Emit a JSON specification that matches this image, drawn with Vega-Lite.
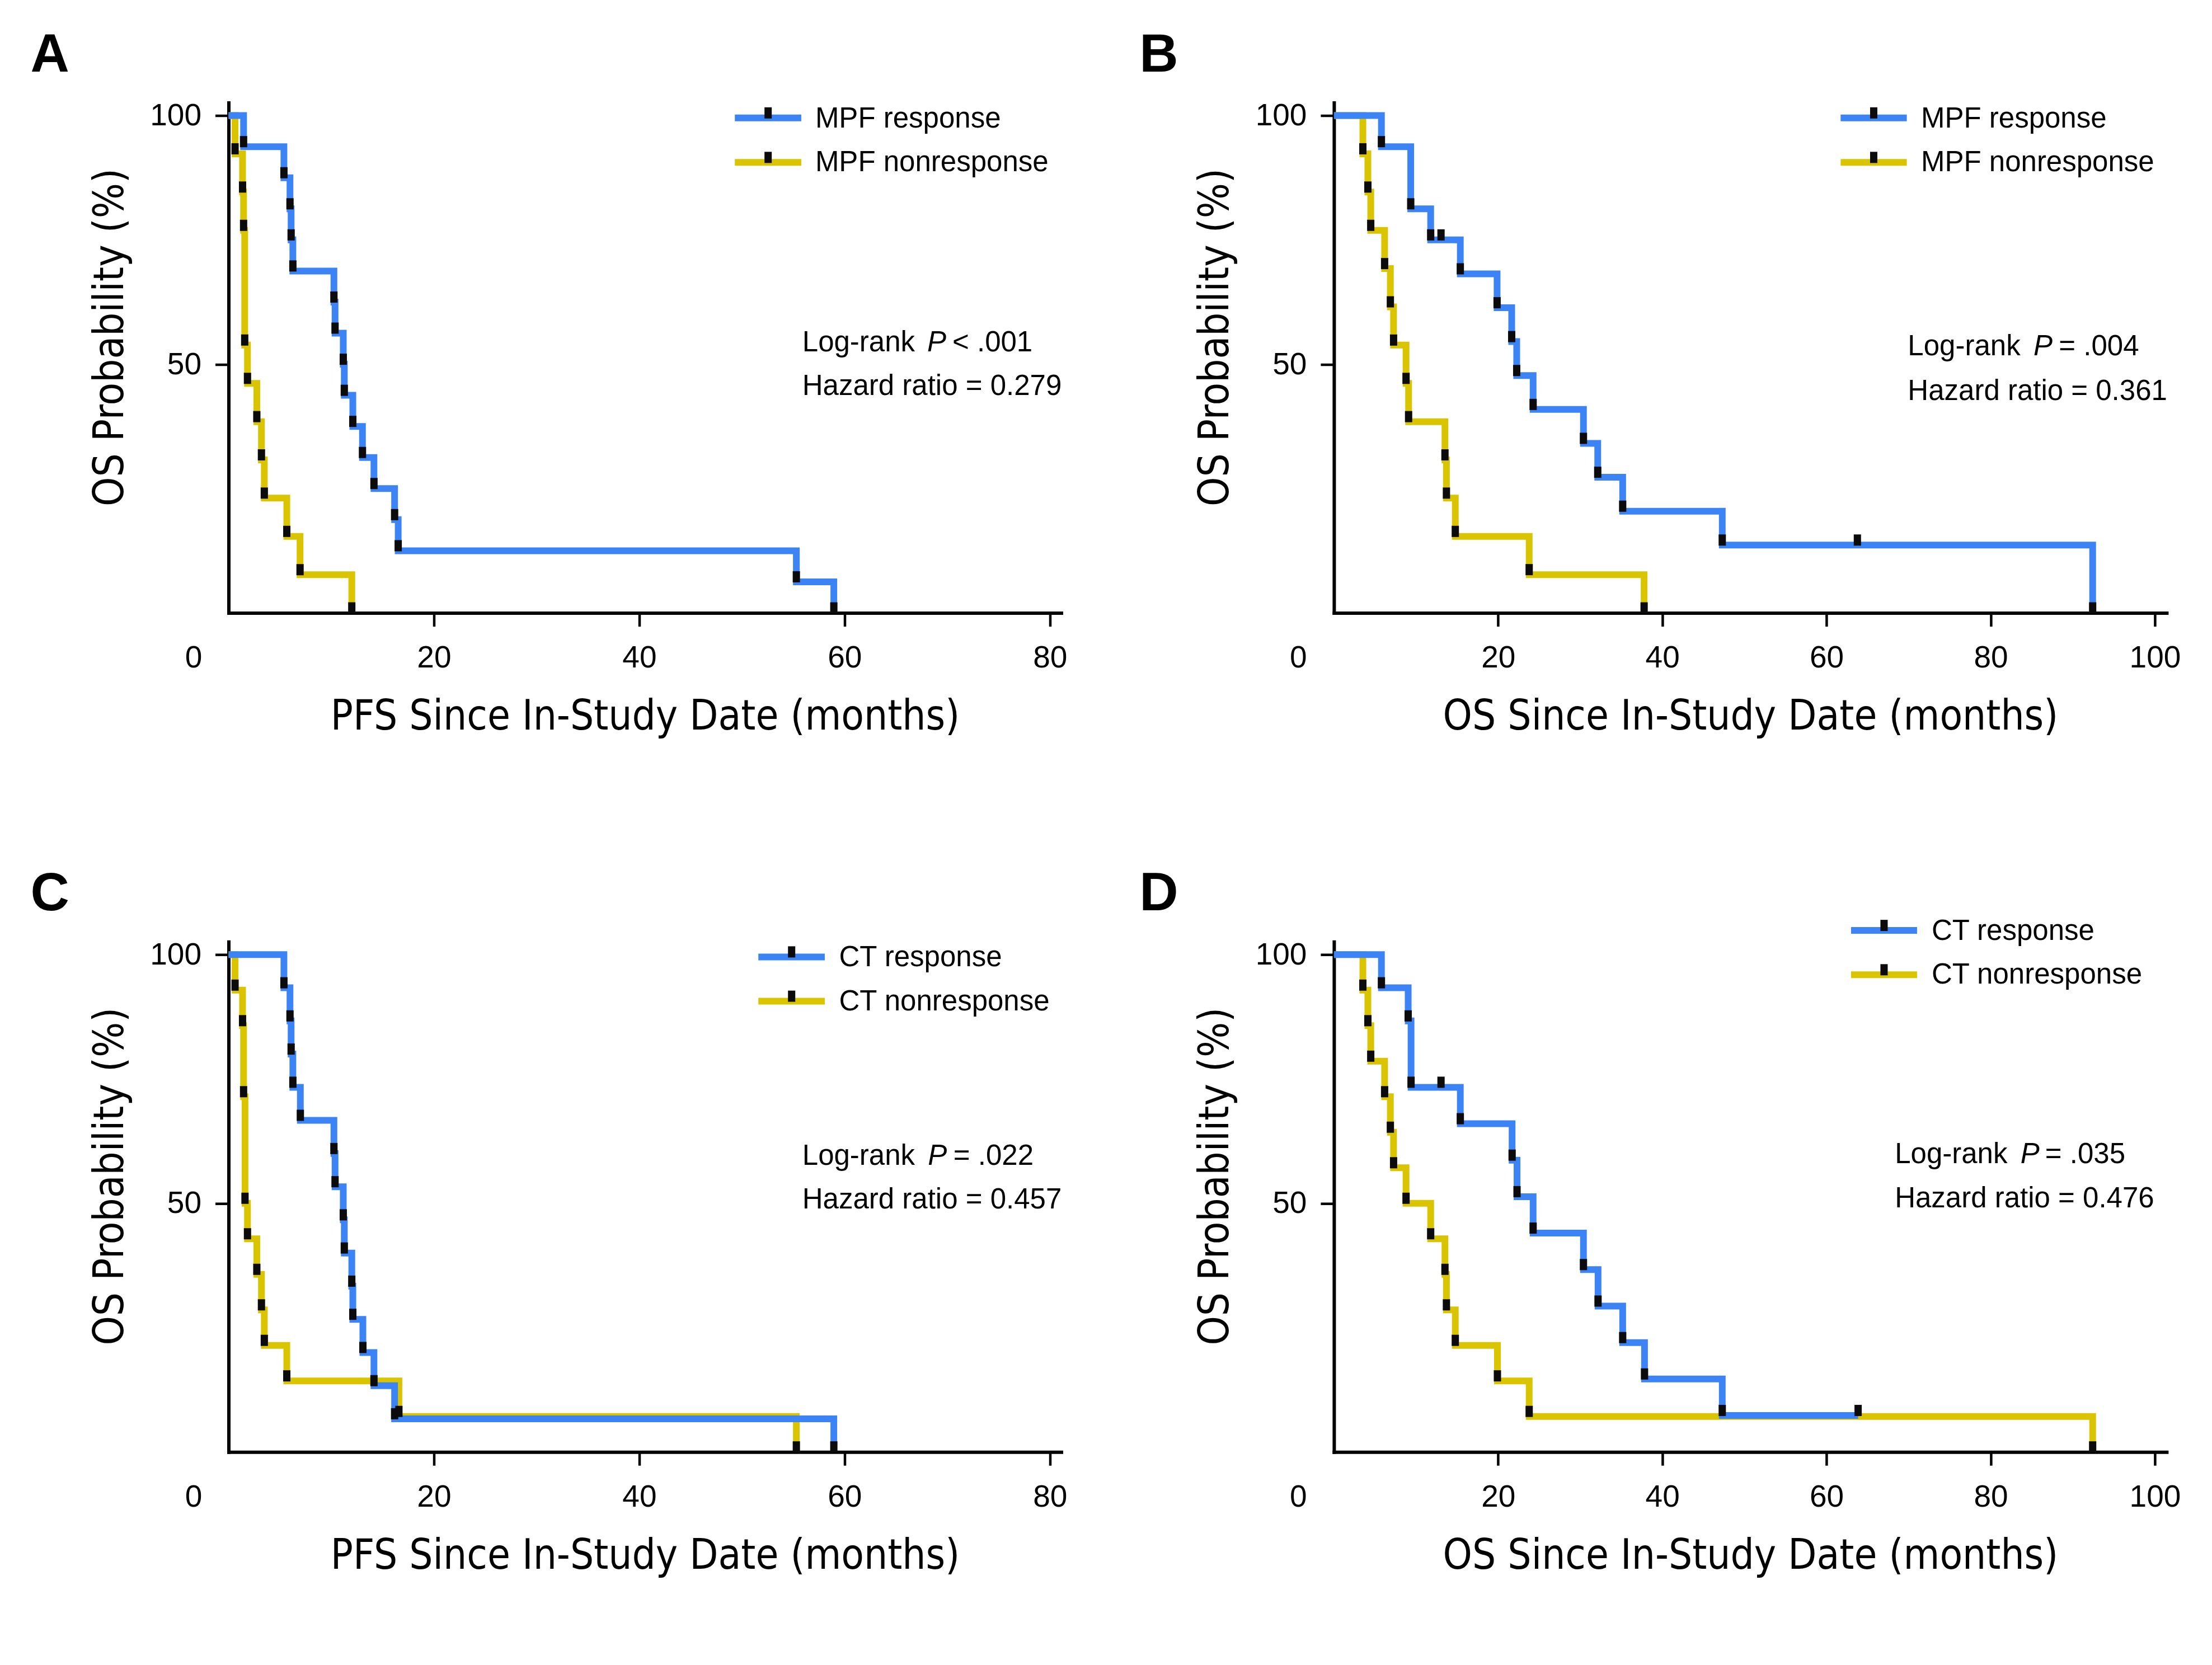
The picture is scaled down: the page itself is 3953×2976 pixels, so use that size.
{
"$schema": "https://vega.github.io/schema/vega-lite/v6.json",
"background": "white",
"padding": {"left": 54.5, "top": 49.5, "right": 20, "bottom": 20},
"autosize": {"type": "pad"},
"config": {
  "view": {"stroke": null},
  "font": "Liberation Sans",
  "axis": {
    "domainColor": "#000000", "domainWidth": 6, "domainCap": "square",
    "tickColor": "#000000", "tickWidth": 4.5, "tickSize": 24,
    "labelFont": "Liberation Sans", "labelFontSize": 55, "labelColor": "#000000",
    "titleFont": "Liberation Sans Narrow, DejaVu Sans Condensed, Liberation Sans",
    "titleFontWeight": "normal", "titleColor": "#000000",
    "grid": false, "labelFlush": false, "labelOverlap": false
  },
  "axisX": {"titleFontSize": 74},
  "axisY": {"titleFontSize": 74},
  "text": {"font": "Liberation Sans", "fontSize": 51, "color": "#000000"}
},
"data": {"values": [
{"p":"A","g":"response","t":0,"s":100,"k":"start"},
{"p":"A","g":"response","t":1.46,"s":93.75,"k":"event"},
{"p":"A","g":"response","t":5.39,"s":87.5,"k":"event"},
{"p":"A","g":"response","t":5.98,"s":81.25,"k":"event"},
{"p":"A","g":"response","t":6.09,"s":75,"k":"event"},
{"p":"A","g":"response","t":6.26,"s":68.75,"k":"event"},
{"p":"A","g":"response","t":10.26,"s":62.5,"k":"event"},
{"p":"A","g":"response","t":10.37,"s":56.25,"k":"event"},
{"p":"A","g":"response","t":11.17,"s":50,"k":"event"},
{"p":"A","g":"response","t":11.27,"s":43.75,"k":"event"},
{"p":"A","g":"response","t":12.1,"s":37.5,"k":"event"},
{"p":"A","g":"response","t":13.04,"s":31.25,"k":"event"},
{"p":"A","g":"response","t":14.16,"s":25,"k":"event"},
{"p":"A","g":"response","t":16.17,"s":18.75,"k":"event"},
{"p":"A","g":"response","t":16.52,"s":12.5,"k":"event"},
{"p":"A","g":"response","t":55.3,"s":6.25,"k":"event"},
{"p":"A","g":"response","t":58.95,"s":0,"k":"event"},
{"p":"A","g":"nonresponse","t":0,"s":100,"k":"start"},
{"p":"A","g":"nonresponse","t":0.63,"s":92.31,"k":"event"},
{"p":"A","g":"nonresponse","t":1.36,"s":84.62,"k":"event"},
{"p":"A","g":"nonresponse","t":1.46,"s":76.92,"k":"event"},
{"p":"A","g":"nonresponse","t":1.57,"s":53.85,"k":"event"},
{"p":"A","g":"nonresponse","t":1.84,"s":46.15,"k":"event"},
{"p":"A","g":"nonresponse","t":2.75,"s":38.46,"k":"event"},
{"p":"A","g":"nonresponse","t":3.2,"s":30.77,"k":"event"},
{"p":"A","g":"nonresponse","t":3.48,"s":23.08,"k":"event"},
{"p":"A","g":"nonresponse","t":5.67,"s":15.38,"k":"event"},
{"p":"A","g":"nonresponse","t":6.96,"s":7.69,"k":"event"},
{"p":"A","g":"nonresponse","t":12.0,"s":0,"k":"event"},
{"p":"B","g":"response","t":0,"s":100,"k":"start"},
{"p":"B","g":"response","t":5.78,"s":93.75,"k":"event"},
{"p":"B","g":"response","t":9.35,"s":81.25,"k":"event"},
{"p":"B","g":"response","t":11.78,"s":75,"k":"event"},
{"p":"B","g":"response","t":13.04,"s":75,"k":"censor"},
{"p":"B","g":"response","t":15.39,"s":68.18,"k":"event"},
{"p":"B","g":"response","t":19.87,"s":61.36,"k":"event"},
{"p":"B","g":"response","t":21.65,"s":54.55,"k":"event"},
{"p":"B","g":"response","t":22.26,"s":47.73,"k":"event"},
{"p":"B","g":"response","t":24.26,"s":40.91,"k":"event"},
{"p":"B","g":"response","t":30.39,"s":34.09,"k":"event"},
{"p":"B","g":"response","t":32.13,"s":27.27,"k":"event"},
{"p":"B","g":"response","t":35.17,"s":20.45,"k":"event"},
{"p":"B","g":"response","t":47.3,"s":13.64,"k":"event"},
{"p":"B","g":"response","t":63.76,"s":13.64,"k":"censor"},
{"p":"B","g":"response","t":92.42,"s":0,"k":"event"},
{"p":"B","g":"nonresponse","t":0,"s":100,"k":"start"},
{"p":"B","g":"nonresponse","t":3.52,"s":92.31,"k":"event"},
{"p":"B","g":"nonresponse","t":4.13,"s":84.62,"k":"event"},
{"p":"B","g":"nonresponse","t":4.48,"s":76.92,"k":"event"},
{"p":"B","g":"nonresponse","t":6.17,"s":69.23,"k":"event"},
{"p":"B","g":"nonresponse","t":6.87,"s":61.54,"k":"event"},
{"p":"B","g":"nonresponse","t":7.26,"s":53.85,"k":"event"},
{"p":"B","g":"nonresponse","t":8.78,"s":46.15,"k":"event"},
{"p":"B","g":"nonresponse","t":9.09,"s":38.46,"k":"event"},
{"p":"B","g":"nonresponse","t":13.52,"s":30.77,"k":"event"},
{"p":"B","g":"nonresponse","t":13.7,"s":23.08,"k":"event"},
{"p":"B","g":"nonresponse","t":14.78,"s":15.38,"k":"event"},
{"p":"B","g":"nonresponse","t":23.78,"s":7.69,"k":"event"},
{"p":"B","g":"nonresponse","t":37.78,"s":0,"k":"event"},
{"p":"C","g":"response","t":0,"s":100,"k":"start"},
{"p":"C","g":"response","t":5.39,"s":93.33,"k":"event"},
{"p":"C","g":"response","t":5.98,"s":86.67,"k":"event"},
{"p":"C","g":"response","t":6.09,"s":80,"k":"event"},
{"p":"C","g":"response","t":6.26,"s":73.33,"k":"event"},
{"p":"C","g":"response","t":6.99,"s":66.67,"k":"event"},
{"p":"C","g":"response","t":10.26,"s":60,"k":"event"},
{"p":"C","g":"response","t":10.37,"s":53.33,"k":"event"},
{"p":"C","g":"response","t":11.17,"s":46.67,"k":"event"},
{"p":"C","g":"response","t":11.27,"s":40,"k":"event"},
{"p":"C","g":"response","t":12.0,"s":33.33,"k":"event"},
{"p":"C","g":"response","t":12.1,"s":26.67,"k":"event"},
{"p":"C","g":"response","t":13.08,"s":20,"k":"event"},
{"p":"C","g":"response","t":14.16,"s":13.33,"k":"event"},
{"p":"C","g":"response","t":16.17,"s":6.67,"k":"event"},
{"p":"C","g":"response","t":58.95,"s":0,"k":"event"},
{"p":"C","g":"nonresponse","t":0,"s":100,"k":"start"},
{"p":"C","g":"nonresponse","t":0.63,"s":92.86,"k":"event"},
{"p":"C","g":"nonresponse","t":1.36,"s":85.71,"k":"event"},
{"p":"C","g":"nonresponse","t":1.46,"s":71.43,"k":"event"},
{"p":"C","g":"nonresponse","t":1.6,"s":50,"k":"event"},
{"p":"C","g":"nonresponse","t":1.84,"s":42.86,"k":"event"},
{"p":"C","g":"nonresponse","t":2.75,"s":35.71,"k":"event"},
{"p":"C","g":"nonresponse","t":3.2,"s":28.57,"k":"event"},
{"p":"C","g":"nonresponse","t":3.48,"s":21.43,"k":"event"},
{"p":"C","g":"nonresponse","t":5.67,"s":14.29,"k":"event"},
{"p":"C","g":"nonresponse","t":16.59,"s":7.14,"k":"event"},
{"p":"C","g":"nonresponse","t":55.3,"s":0,"k":"event"},
{"p":"D","g":"response","t":0,"s":100,"k":"start"},
{"p":"D","g":"response","t":5.78,"s":93.33,"k":"event"},
{"p":"D","g":"response","t":9.04,"s":86.67,"k":"event"},
{"p":"D","g":"response","t":9.39,"s":73.33,"k":"event"},
{"p":"D","g":"response","t":13.04,"s":73.33,"k":"censor"},
{"p":"D","g":"response","t":15.39,"s":66,"k":"event"},
{"p":"D","g":"response","t":21.7,"s":58.67,"k":"event"},
{"p":"D","g":"response","t":22.3,"s":51.33,"k":"event"},
{"p":"D","g":"response","t":24.26,"s":44,"k":"event"},
{"p":"D","g":"response","t":30.39,"s":36.67,"k":"event"},
{"p":"D","g":"response","t":32.17,"s":29.33,"k":"event"},
{"p":"D","g":"response","t":35.17,"s":22,"k":"event"},
{"p":"D","g":"response","t":37.83,"s":14.67,"k":"event"},
{"p":"D","g":"response","t":47.3,"s":7.33,"k":"event"},
{"p":"D","g":"response","t":63.85,"s":7.33,"k":"censor"},
{"p":"D","g":"nonresponse","t":0,"s":100,"k":"start"},
{"p":"D","g":"nonresponse","t":3.52,"s":92.86,"k":"event"},
{"p":"D","g":"nonresponse","t":4.13,"s":85.71,"k":"event"},
{"p":"D","g":"nonresponse","t":4.48,"s":78.57,"k":"event"},
{"p":"D","g":"nonresponse","t":6.17,"s":71.43,"k":"event"},
{"p":"D","g":"nonresponse","t":6.87,"s":64.29,"k":"event"},
{"p":"D","g":"nonresponse","t":7.26,"s":57.14,"k":"event"},
{"p":"D","g":"nonresponse","t":8.78,"s":50,"k":"event"},
{"p":"D","g":"nonresponse","t":11.78,"s":42.86,"k":"event"},
{"p":"D","g":"nonresponse","t":13.52,"s":35.71,"k":"event"},
{"p":"D","g":"nonresponse","t":13.7,"s":28.57,"k":"event"},
{"p":"D","g":"nonresponse","t":14.78,"s":21.43,"k":"event"},
{"p":"D","g":"nonresponse","t":19.91,"s":14.29,"k":"event"},
{"p":"D","g":"nonresponse","t":23.78,"s":7.14,"k":"event"},
{"p":"D","g":"nonresponse","t":92.42,"s":0,"k":"event"}
]},
"columns": 2,
"spacing": {"row": 587.7, "column": 487.4},
"bounds": "flush",
"concat": [
{
 "width": 1488, "height": 912,
 "layer": [
  {"transform": [{"filter": "datum.p == 'A' && datum.g == 'nonresponse'"}], "mark": {"type": "line", "interpolate": "step-after", "strokeWidth": 12, "strokeJoin": "miter"},
   "encoding": {
    "x": {"field": "t", "type": "quantitative", "scale": {"domain": [0, 81.1], "nice": false, "zero": false},
          "axis": {"values": [0, 20, 40, 60, 80], "title": "PFS Since In-Study Date (months)", "labelBaseline": "alphabetic", "labelPadding": 73,
                   "labelOffset": {"condition": {"test": "datum.value == 0", "value": -63}, "value": 0},
                   "tickOpacity": {"condition": {"test": "datum.value == 0", "value": 0}, "value": 1},
                   "titleBaseline": "alphabetic", "titleX": 744, "titleY": 208, "titleAlign": "center"}},
    "y": {"field": "s", "type": "quantitative", "scale": {"domain": [0, 102.6], "nice": false, "zero": false},
          "axis": {"values": [50, 100], "title": "OS Probability (%)", "labelPadding": 25, "titleX": -189, "titleY": 419, "titleAngle": 270, "titleBaseline": "alphabetic", "titleAlign": "center"}},
    "color": {"field": "g", "type": "nominal", "scale": {"domain": ["response", "nonresponse"], "range": ["#3C83F6", "#DAC400"]}, "legend": null}}},
  {"transform": [{"filter": "datum.p == 'A' && datum.g == 'response'"}], "mark": {"type": "line", "interpolate": "step-after", "strokeWidth": 12, "strokeJoin": "miter"},
   "encoding": {"x": {"field": "t", "type": "quantitative"}, "y": {"field": "s", "type": "quantitative"}, "color": {"field": "g", "type": "nominal", "legend": null}}},
  {"transform": [{"filter": "datum.p == 'A' && datum.k != 'start'"}], "mark": {"type": "tick", "orient": "vertical", "size": 20, "thickness": 13, "color": "#0b0b0b", "opacity": 1, "yOffset": -9},
   "encoding": {"x": {"field": "t", "type": "quantitative"}, "y": {"field": "s", "type": "quantitative"}}},
  {"transform": [{"filter": "datum.p == 'A' && datum.g == 'response' && datum.k == 'start'"}],
   "layer": [
    {"mark": {"type": "rule", "strokeWidth": 12}, "encoding": {"x": {"datum": 49.31, "type": "quantitative"}, "x2": {"datum": 55.78}, "y": {"datum": 99.53, "type": "quantitative"}, "color": {"datum": "response", "type": "nominal", "legend": null}}},
    {"mark": {"type": "rule", "strokeWidth": 12}, "encoding": {"x": {"datum": 49.31, "type": "quantitative"}, "x2": {"datum": 55.78}, "y": {"datum": 90.58, "type": "quantitative"}, "color": {"datum": "nonresponse", "type": "nominal", "legend": null}}},
    {"mark": {"type": "tick", "orient": "vertical", "size": 20, "thickness": 13, "color": "#0b0b0b", "opacity": 1, "yOffset": -9}, "encoding": {"x": {"datum": 52.55, "type": "quantitative"}, "y": {"datum": 99.53, "type": "quantitative"}}},
    {"mark": {"type": "tick", "orient": "vertical", "size": 20, "thickness": 13, "color": "#0b0b0b", "opacity": 1, "yOffset": -9}, "encoding": {"x": {"datum": 52.55, "type": "quantitative"}, "y": {"datum": 90.58, "type": "quantitative"}}},
    {"mark": {"type": "text", "align": "left", "baseline": "alphabetic"}, "encoding": {"x": {"datum": 57.14, "type": "quantitative"}, "y": {"datum": 97.65, "type": "quantitative"}, "text": {"value": "MPF response"}}},
    {"mark": {"type": "text", "align": "left", "baseline": "alphabetic"}, "encoding": {"x": {"datum": 57.14, "type": "quantitative"}, "y": {"datum": 88.8, "type": "quantitative"}, "text": {"value": "MPF nonresponse"}}},
    {"mark": {"type": "text", "align": "left", "baseline": "alphabetic"}, "encoding": {"x": {"datum": 55.88, "type": "quantitative"}, "y": {"datum": 52.65, "type": "quantitative"}, "text": {"value": "Log-rank"}}},
    {"mark": {"type": "text", "align": "left", "baseline": "alphabetic", "fontStyle": "italic"}, "encoding": {"x": {"datum": 68.04, "type": "quantitative"}, "y": {"datum": 52.65, "type": "quantitative"}, "text": {"value": "P"}}},
    {"mark": {"type": "text", "align": "left", "baseline": "alphabetic"}, "encoding": {"x": {"datum": 70.5, "type": "quantitative"}, "y": {"datum": 52.65, "type": "quantitative"}, "text": {"value": "< .001"}}},
    {"mark": {"type": "text", "align": "left", "baseline": "alphabetic"}, "encoding": {"x": {"datum": 55.88, "type": "quantitative"}, "y": {"datum": 43.8, "type": "quantitative"}, "text": {"value": "Hazard ratio = 0.279"}}},
    {"mark": {"type": "text", "align": "left", "baseline": "alphabetic", "fontSize": 96, "fontWeight": "bold"}, "encoding": {"x": {"datum": -19.29, "type": "quantitative"}, "y": {"datum": 108.9, "type": "quantitative"}, "text": {"value": "A"}}}
   ]}
 ]
},
{
 "width": 1488, "height": 912,
 "layer": [
  {"transform": [{"filter": "datum.p == 'B' && datum.g == 'nonresponse'"}], "mark": {"type": "line", "interpolate": "step-after", "strokeWidth": 12, "strokeJoin": "miter"},
   "encoding": {
    "x": {"field": "t", "type": "quantitative", "scale": {"domain": [0, 101.43], "nice": false, "zero": false},
          "axis": {"values": [0, 20, 40, 60, 80, 100], "title": "OS Since In-Study Date (months)", "labelBaseline": "alphabetic", "labelPadding": 73,
                   "labelOffset": {"condition": {"test": "datum.value == 0", "value": -64}, "value": 0},
                   "tickOpacity": {"condition": {"test": "datum.value == 0", "value": 0}, "value": 1},
                   "titleBaseline": "alphabetic", "titleX": 744, "titleY": 208, "titleAlign": "center"}},
    "y": {"field": "s", "type": "quantitative", "scale": {"domain": [0, 102.6], "nice": false, "zero": false},
          "axis": {"values": [50, 100], "title": "OS Probability (%)", "labelPadding": 25, "titleX": -189, "titleY": 419, "titleAngle": 270, "titleBaseline": "alphabetic", "titleAlign": "center"}},
    "color": {"field": "g", "type": "nominal", "scale": {"domain": ["response", "nonresponse"], "range": ["#3C83F6", "#DAC400"]}, "legend": null}}},
  {"transform": [{"filter": "datum.p == 'B' && datum.g == 'response'"}], "mark": {"type": "line", "interpolate": "step-after", "strokeWidth": 12, "strokeJoin": "miter"},
   "encoding": {"x": {"field": "t", "type": "quantitative"}, "y": {"field": "s", "type": "quantitative"}, "color": {"field": "g", "type": "nominal", "legend": null}}},
  {"transform": [{"filter": "datum.p == 'B' && datum.k != 'start'"}], "mark": {"type": "tick", "orient": "vertical", "size": 20, "thickness": 13, "color": "#0b0b0b", "opacity": 1, "yOffset": -9},
   "encoding": {"x": {"field": "t", "type": "quantitative"}, "y": {"field": "s", "type": "quantitative"}}},
  {"transform": [{"filter": "datum.p == 'B' && datum.g == 'response' && datum.k == 'start'"}],
   "layer": [
    {"mark": {"type": "rule", "strokeWidth": 12}, "encoding": {"x": {"datum": 61.72, "type": "quantitative"}, "x2": {"datum": 69.78}, "y": {"datum": 99.53, "type": "quantitative"}, "color": {"datum": "response", "type": "nominal", "legend": null}}},
    {"mark": {"type": "rule", "strokeWidth": 12}, "encoding": {"x": {"datum": 61.72, "type": "quantitative"}, "x2": {"datum": 69.78}, "y": {"datum": 90.58, "type": "quantitative"}, "color": {"datum": "nonresponse", "type": "nominal", "legend": null}}},
    {"mark": {"type": "tick", "orient": "vertical", "size": 20, "thickness": 13, "color": "#0b0b0b", "opacity": 1, "yOffset": -9}, "encoding": {"x": {"datum": 65.75, "type": "quantitative"}, "y": {"datum": 99.53, "type": "quantitative"}}},
    {"mark": {"type": "tick", "orient": "vertical", "size": 20, "thickness": 13, "color": "#0b0b0b", "opacity": 1, "yOffset": -9}, "encoding": {"x": {"datum": 65.75, "type": "quantitative"}, "y": {"datum": 90.58, "type": "quantitative"}}},
    {"mark": {"type": "text", "align": "left", "baseline": "alphabetic"}, "encoding": {"x": {"datum": 71.51, "type": "quantitative"}, "y": {"datum": 97.65, "type": "quantitative"}, "text": {"value": "MPF response"}}},
    {"mark": {"type": "text", "align": "left", "baseline": "alphabetic"}, "encoding": {"x": {"datum": 71.51, "type": "quantitative"}, "y": {"datum": 88.8, "type": "quantitative"}, "text": {"value": "MPF nonresponse"}}},
    {"mark": {"type": "text", "align": "left", "baseline": "alphabetic"}, "encoding": {"x": {"datum": 69.9, "type": "quantitative"}, "y": {"datum": 51.82, "type": "quantitative"}, "text": {"value": "Log-rank"}}},
    {"mark": {"type": "text", "align": "left", "baseline": "alphabetic", "fontStyle": "italic"}, "encoding": {"x": {"datum": 85.22, "type": "quantitative"}, "y": {"datum": 51.82, "type": "quantitative"}, "text": {"value": "P"}}},
    {"mark": {"type": "text", "align": "left", "baseline": "alphabetic"}, "encoding": {"x": {"datum": 88.3, "type": "quantitative"}, "y": {"datum": 51.82, "type": "quantitative"}, "text": {"value": "= .004"}}},
    {"mark": {"type": "text", "align": "left", "baseline": "alphabetic"}, "encoding": {"x": {"datum": 69.9, "type": "quantitative"}, "y": {"datum": 42.84, "type": "quantitative"}, "text": {"value": "Hazard ratio = 0.361"}}},
    {"mark": {"type": "text", "align": "left", "baseline": "alphabetic", "fontSize": 96, "fontWeight": "bold"}, "encoding": {"x": {"datum": -23.7, "type": "quantitative"}, "y": {"datum": 108.9, "type": "quantitative"}, "text": {"value": "B"}}}
   ]}
 ]
},
{
 "width": 1488, "height": 912,
 "layer": [
  {"transform": [{"filter": "datum.p == 'C' && datum.g == 'nonresponse'"}], "mark": {"type": "line", "interpolate": "step-after", "strokeWidth": 12, "strokeJoin": "miter"},
   "encoding": {
    "x": {"field": "t", "type": "quantitative", "scale": {"domain": [0, 81.1], "nice": false, "zero": false},
          "axis": {"values": [0, 20, 40, 60, 80], "title": "PFS Since In-Study Date (months)", "labelBaseline": "alphabetic", "labelPadding": 73,
                   "labelOffset": {"condition": {"test": "datum.value == 0", "value": -63}, "value": 0},
                   "tickOpacity": {"condition": {"test": "datum.value == 0", "value": 0}, "value": 1},
                   "titleBaseline": "alphabetic", "titleX": 744, "titleY": 208, "titleAlign": "center"}},
    "y": {"field": "s", "type": "quantitative", "scale": {"domain": [0, 102.6], "nice": false, "zero": false},
          "axis": {"values": [50, 100], "title": "OS Probability (%)", "labelPadding": 25, "titleX": -189, "titleY": 419, "titleAngle": 270, "titleBaseline": "alphabetic", "titleAlign": "center"}},
    "color": {"field": "g", "type": "nominal", "scale": {"domain": ["response", "nonresponse"], "range": ["#3C83F6", "#DAC400"]}, "legend": null}}},
  {"transform": [{"filter": "datum.p == 'C' && datum.g == 'response'"}], "mark": {"type": "line", "interpolate": "step-after", "strokeWidth": 12, "strokeJoin": "miter"},
   "encoding": {"x": {"field": "t", "type": "quantitative"}, "y": {"field": "s", "type": "quantitative"}, "color": {"field": "g", "type": "nominal", "legend": null}}},
  {"transform": [{"filter": "datum.p == 'C' && datum.k != 'start'"}], "mark": {"type": "tick", "orient": "vertical", "size": 20, "thickness": 13, "color": "#0b0b0b", "opacity": 1, "yOffset": -9},
   "encoding": {"x": {"field": "t", "type": "quantitative"}, "y": {"field": "s", "type": "quantitative"}}},
  {"transform": [{"filter": "datum.p == 'C' && datum.g == 'response' && datum.k == 'start'"}],
   "layer": [
    {"mark": {"type": "rule", "strokeWidth": 12}, "encoding": {"x": {"datum": 51.6, "type": "quantitative"}, "x2": {"datum": 58.07}, "y": {"datum": 99.54, "type": "quantitative"}, "color": {"datum": "response", "type": "nominal", "legend": null}}},
    {"mark": {"type": "rule", "strokeWidth": 12}, "encoding": {"x": {"datum": 51.6, "type": "quantitative"}, "x2": {"datum": 58.07}, "y": {"datum": 90.63, "type": "quantitative"}, "color": {"datum": "nonresponse", "type": "nominal", "legend": null}}},
    {"mark": {"type": "tick", "orient": "vertical", "size": 20, "thickness": 13, "color": "#0b0b0b", "opacity": 1, "yOffset": -9}, "encoding": {"x": {"datum": 54.84, "type": "quantitative"}, "y": {"datum": 99.54, "type": "quantitative"}}},
    {"mark": {"type": "tick", "orient": "vertical", "size": 20, "thickness": 13, "color": "#0b0b0b", "opacity": 1, "yOffset": -9}, "encoding": {"x": {"datum": 54.84, "type": "quantitative"}, "y": {"datum": 90.63, "type": "quantitative"}}},
    {"mark": {"type": "text", "align": "left", "baseline": "alphabetic"}, "encoding": {"x": {"datum": 59.46, "type": "quantitative"}, "y": {"datum": 97.66, "type": "quantitative"}, "text": {"value": "CT response"}}},
    {"mark": {"type": "text", "align": "left", "baseline": "alphabetic"}, "encoding": {"x": {"datum": 59.46, "type": "quantitative"}, "y": {"datum": 88.82, "type": "quantitative"}, "text": {"value": "CT nonresponse"}}},
    {"mark": {"type": "text", "align": "left", "baseline": "alphabetic"}, "encoding": {"x": {"datum": 55.88, "type": "quantitative"}, "y": {"datum": 57.7, "type": "quantitative"}, "text": {"value": "Log-rank"}}},
    {"mark": {"type": "text", "align": "left", "baseline": "alphabetic", "fontStyle": "italic"}, "encoding": {"x": {"datum": 68.12, "type": "quantitative"}, "y": {"datum": 57.7, "type": "quantitative"}, "text": {"value": "P"}}},
    {"mark": {"type": "text", "align": "left", "baseline": "alphabetic"}, "encoding": {"x": {"datum": 70.6, "type": "quantitative"}, "y": {"datum": 57.7, "type": "quantitative"}, "text": {"value": "= .022"}}},
    {"mark": {"type": "text", "align": "left", "baseline": "alphabetic"}, "encoding": {"x": {"datum": 55.88, "type": "quantitative"}, "y": {"datum": 48.98, "type": "quantitative"}, "text": {"value": "Hazard ratio = 0.457"}}},
    {"mark": {"type": "text", "align": "left", "baseline": "alphabetic", "fontSize": 96, "fontWeight": "bold"}, "encoding": {"x": {"datum": -19.29, "type": "quantitative"}, "y": {"datum": 108.9, "type": "quantitative"}, "text": {"value": "C"}}}
   ]}
 ]
},
{
 "width": 1488, "height": 912,
 "layer": [
  {"transform": [{"filter": "datum.p == 'D' && datum.g == 'nonresponse'"}], "mark": {"type": "line", "interpolate": "step-after", "strokeWidth": 12, "strokeJoin": "miter"},
   "encoding": {
    "x": {"field": "t", "type": "quantitative", "scale": {"domain": [0, 101.43], "nice": false, "zero": false},
          "axis": {"values": [0, 20, 40, 60, 80, 100], "title": "OS Since In-Study Date (months)", "labelBaseline": "alphabetic", "labelPadding": 73,
                   "labelOffset": {"condition": {"test": "datum.value == 0", "value": -64}, "value": 0},
                   "tickOpacity": {"condition": {"test": "datum.value == 0", "value": 0}, "value": 1},
                   "titleBaseline": "alphabetic", "titleX": 744, "titleY": 208, "titleAlign": "center"}},
    "y": {"field": "s", "type": "quantitative", "scale": {"domain": [0, 102.6], "nice": false, "zero": false},
          "axis": {"values": [50, 100], "title": "OS Probability (%)", "labelPadding": 25, "titleX": -189, "titleY": 419, "titleAngle": 270, "titleBaseline": "alphabetic", "titleAlign": "center"}},
    "color": {"field": "g", "type": "nominal", "scale": {"domain": ["response", "nonresponse"], "range": ["#3C83F6", "#DAC400"]}, "legend": null}}},
  {"transform": [{"filter": "datum.p == 'D' && datum.g == 'response'"}], "mark": {"type": "line", "interpolate": "step-after", "strokeWidth": 12, "strokeJoin": "miter"},
   "encoding": {"x": {"field": "t", "type": "quantitative"}, "y": {"field": "s", "type": "quantitative"}, "color": {"field": "g", "type": "nominal", "legend": null}}},
  {"transform": [{"filter": "datum.p == 'D' && datum.k != 'start'"}], "mark": {"type": "tick", "orient": "vertical", "size": 20, "thickness": 13, "color": "#0b0b0b", "opacity": 1, "yOffset": -9},
   "encoding": {"x": {"field": "t", "type": "quantitative"}, "y": {"field": "s", "type": "quantitative"}}},
  {"transform": [{"filter": "datum.p == 'D' && datum.g == 'response' && datum.k == 'start'"}],
   "layer": [
    {"mark": {"type": "rule", "strokeWidth": 12}, "encoding": {"x": {"datum": 62.99, "type": "quantitative"}, "x2": {"datum": 71.03}, "y": {"datum": 104.86, "type": "quantitative"}, "color": {"datum": "response", "type": "nominal", "legend": null}}},
    {"mark": {"type": "rule", "strokeWidth": 12}, "encoding": {"x": {"datum": 62.99, "type": "quantitative"}, "x2": {"datum": 71.03}, "y": {"datum": 95.95, "type": "quantitative"}, "color": {"datum": "nonresponse", "type": "nominal", "legend": null}}},
    {"mark": {"type": "tick", "orient": "vertical", "size": 20, "thickness": 13, "color": "#0b0b0b", "opacity": 1, "yOffset": -9}, "encoding": {"x": {"datum": 67.01, "type": "quantitative"}, "y": {"datum": 104.86, "type": "quantitative"}}},
    {"mark": {"type": "tick", "orient": "vertical", "size": 20, "thickness": 13, "color": "#0b0b0b", "opacity": 1, "yOffset": -9}, "encoding": {"x": {"datum": 67.01, "type": "quantitative"}, "y": {"datum": 95.95, "type": "quantitative"}}},
    {"mark": {"type": "text", "align": "left", "baseline": "alphabetic"}, "encoding": {"x": {"datum": 72.8, "type": "quantitative"}, "y": {"datum": 102.97, "type": "quantitative"}, "text": {"value": "CT response"}}},
    {"mark": {"type": "text", "align": "left", "baseline": "alphabetic"}, "encoding": {"x": {"datum": 72.8, "type": "quantitative"}, "y": {"datum": 94.17, "type": "quantitative"}, "text": {"value": "CT nonresponse"}}},
    {"mark": {"type": "text", "align": "left", "baseline": "alphabetic"}, "encoding": {"x": {"datum": 68.32, "type": "quantitative"}, "y": {"datum": 58.02, "type": "quantitative"}, "text": {"value": "Log-rank"}}},
    {"mark": {"type": "text", "align": "left", "baseline": "alphabetic", "fontStyle": "italic"}, "encoding": {"x": {"datum": 83.63, "type": "quantitative"}, "y": {"datum": 58.02, "type": "quantitative"}, "text": {"value": "P"}}},
    {"mark": {"type": "text", "align": "left", "baseline": "alphabetic"}, "encoding": {"x": {"datum": 86.63, "type": "quantitative"}, "y": {"datum": 58.02, "type": "quantitative"}, "text": {"value": "= .035"}}},
    {"mark": {"type": "text", "align": "left", "baseline": "alphabetic"}, "encoding": {"x": {"datum": 68.32, "type": "quantitative"}, "y": {"datum": 49.24, "type": "quantitative"}, "text": {"value": "Hazard ratio = 0.476"}}},
    {"mark": {"type": "text", "align": "left", "baseline": "alphabetic", "fontSize": 96, "fontWeight": "bold"}, "encoding": {"x": {"datum": -23.7, "type": "quantitative"}, "y": {"datum": 108.9, "type": "quantitative"}, "text": {"value": "D"}}}
   ]}
 ]
}
]
}
